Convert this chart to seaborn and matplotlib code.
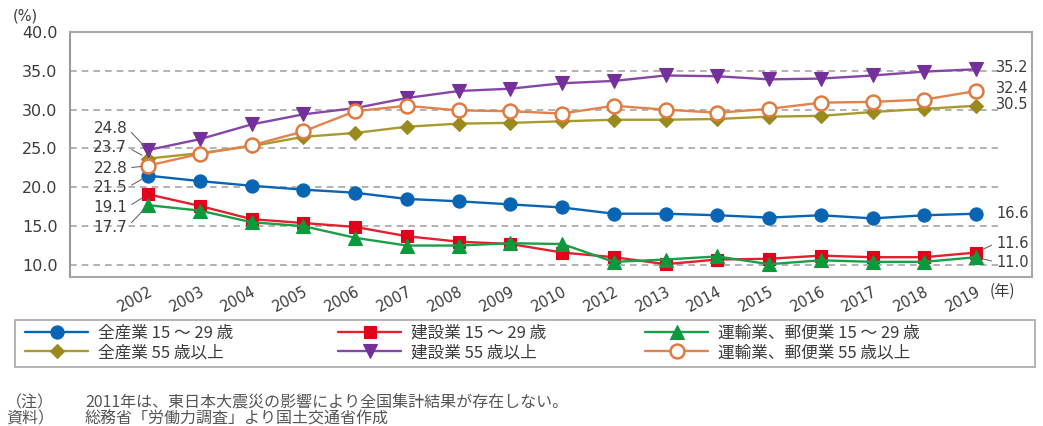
import matplotlib
matplotlib.use("Agg")
import matplotlib.pyplot as plt
from matplotlib.patches import Rectangle
import seaborn as sns
import pandas as pd

# ---- data -------------------------------------------------------------
years = ["2002", "2003", "2004", "2005", "2006", "2007", "2008", "2009", "2010",
         "2012", "2013", "2014", "2015", "2016", "2017", "2018", "2019"]

all_15_29 = [21.5, 20.8, 20.2, 19.7, 19.3, 18.5, 18.2, 17.8, 17.4,
             16.6, 16.6, 16.4, 16.1, 16.4, 16.0, 16.4, 16.6]
con_15_29 = [19.1, 17.6, 15.9, 15.4, 14.9, 13.7, 13.0, 12.7, 11.6,
             11.0, 10.1, 10.7, 10.8, 11.2, 11.0, 11.0, 11.6]
trn_15_29 = [17.7, 17.0, 15.5, 15.0, 13.5, 12.5, 12.5, 12.8, 12.7,
             10.4, 10.7, 11.1, 10.1, 10.6, 10.4, 10.4, 11.0]
all_55 = [23.7, 24.4, 25.3, 26.5, 27.0, 27.8, 28.2, 28.3, 28.5,
          28.7, 28.7, 28.8, 29.1, 29.2, 29.7, 30.1, 30.5]
con_55 = [24.8, 26.2, 28.1, 29.4, 30.2, 31.5, 32.4, 32.7, 33.4,
          33.7, 34.4, 34.3, 33.9, 34.0, 34.4, 34.9, 35.2]
trn_55 = [22.8, 24.3, 25.4, 27.2, 29.8, 30.5, 29.9, 29.8, 29.5,
          30.5, 30.0, 29.6, 30.1, 30.9, 31.0, 31.3, 32.4]

series_names = ["全産業 15 ～ 29 歳", "建設業 15 ～ 29 歳", "運輸業、郵便業 15 ～ 29 歳",
                "全産業 55 歳以上", "建設業 55 歳以上", "運輸業、郵便業 55 歳以上"]
series_values = [all_15_29, con_15_29, trn_15_29, all_55, con_55, trn_55]

y_ticks = [10.0, 15.0, 20.0, 25.0, 30.0, 35.0, 40.0]
y_unit = "(%)"
x_unit = "(年)"
note_heads = ["（注）", "資料）"]
note_bodies = ["2011年は、東日本大震災の影響により全国集計結果が存在しない。",
               "総務省「労働力調査」より国土交通省作成"]

# ---- styles -----------------------------------------------------------
styles = [
    dict(color="#0a64b4", marker="o", ms=9.5, mfc="#0a64b4", mec="#0a64b4"),
    dict(color="#e2202e", marker="s", ms=8, mfc="#e2001a", mec="#e2001a"),
    dict(color="#18a048", marker="^", ms=10, mfc="#0a9a3c", mec="#0a9a3c"),
    dict(color="#a89a2c", marker="D", ms=7.5, mfc="#9a8a1e", mec="#9a8a1e"),
    dict(color="#8646a8", marker="v", ms=10, mfc="#74309a", mec="#74309a"),
    dict(color="#e3824c", marker="o", ms=10, mfc="white", mec="#e07a40", mew=1.8),
]

sns.set_style("white")
plt.rcParams["font.family"] = ["DejaVu Sans", "Noto Sans CJK JP"]
JP = ["Noto Sans CJK JP", "DejaVu Sans"]
TXT = "#3c3c3c"

W, H = 1043, 426
fig = plt.figure(figsize=(W / 100, H / 100), dpi=100)
ax = fig.add_axes([70 / W, 1 - 277 / H, (1032 - 70) / W, (277 - 32) / H])

positions = list(range(len(years)))
df = pd.DataFrame({"pos": positions})
for name, vals in zip(series_names, series_values):
    df[name] = vals

handles = []
for name, st in zip(series_names, styles):
    sns.lineplot(data=df, x="pos", y=name, ax=ax, color=st["color"], lw=1.7,
                 marker=st["marker"], markersize=st["ms"],
                 markerfacecolor=st["mfc"], markeredgecolor=st["mec"],
                 markeredgewidth=st.get("mew", 0.8), legend=False, zorder=3)
    handles.append(ax.lines[-1])

# axes range and frame
ax.set_xlim(-1.51, 17.08)
ax.set_ylim(8.45, 40.0)
for sp in ax.spines.values():
    sp.set_visible(True)
    sp.set_color("#a8a8a8")
    sp.set_linewidth(1.5)
ax.spines["left"].set_color("#9a9a9a")

# dashed reference lines
ax.hlines(y_ticks[:-1], -1.51, 16.43, colors="#a6a6a6", linestyles=(0, (4, 3)),
          linewidth=1.2, zorder=1)

ax.set_yticks(y_ticks)
ax.set_yticklabels([f"{v:.1f}" for v in y_ticks], fontsize=11.5, color=TXT)
ax.set_xticks(positions)
ax.set_xticklabels(years, rotation=28, ha="right", rotation_mode="anchor",
                   fontsize=10.5, color=TXT)
ax.tick_params(axis="both", length=0)
ax.tick_params(axis="x", pad=5)
ax.tick_params(axis="y", pad=9)
ax.set_xlabel("")
ax.set_ylabel("")

# value labels at both ends (pixel offsets from the first / last point)
lead = dict(arrowstyle="-", color="#6a6a6a", lw=0.8, shrinkA=1, shrinkB=5)
left_offsets = [-12, -13, -22, 11.5, 22, -2.5]
for vals, dy in zip(series_values, left_offsets):
    ax.annotate(f"{vals[0]:.1f}", xy=(0, vals[0]), xytext=(-21, dy),
                textcoords="offset pixels", ha="right", va="center",
                fontsize=11, color=TXT,
                arrowprops=dict(lead, relpos=(1, 0.5)))

right_offsets = [(0, False), (9.5, True), (-5, True), (1.5, False), (2, False), (2.5, False)]
last = len(years) - 1
for vals, (dy, leader) in zip(series_values, right_offsets):
    kw = {}
    if leader:
        kw["arrowprops"] = dict(lead, relpos=(0, 0.5))
    ax.annotate(f"{vals[-1]:.1f}", xy=(last, vals[-1]), xytext=(20, dy),
                textcoords="offset pixels", ha="left", va="center",
                fontsize=10.5, color=TXT, **kw)

# units
fig.text(13 / W, 1 - 16 / H, y_unit, fontsize=10.5, color=TXT, ha="left", va="center")
fig.text(990 / W, 1 - 291 / H, x_unit, fontsize=11, color=TXT, ha="left",
         va="center", family=JP)

# legend: three columns, each with a 15-29 row and a 55+ row, in one frame
fig.add_artist(Rectangle((15 / W, 1 - 367 / H), 1020 / W, 47 / H,
                         transform=fig.transFigure, fill=False,
                         edgecolor="#a8a8a8", linewidth=1.2))
col_x = [25, 338, 645]
for c, x in enumerate(col_x):
    leg = fig.legend([handles[c], handles[c + 3]],
                     [series_names[c], series_names[c + 3]],
                     loc="upper left", bbox_to_anchor=(x / W, 1 - 325 / H),
                     borderaxespad=0, borderpad=0, frameon=False,
                     handlelength=3.8, handletextpad=0.6, labelspacing=0.12,
                     prop={"family": JP, "size": 12})
    for t in leg.get_texts():
        t.set_color(TXT)

# notes
for i, (head, body) in enumerate(zip(note_heads, note_bodies)):
    y = 1 - (403 + 16 * i) / H
    fig.text(6 / W, y, head, fontsize=11.5, color="#555555", ha="left",
             va="center", family=JP)
    fig.text(85 / W, y, body, fontsize=11.5, color="#555555", ha="left",
             va="center", family=JP)

fig.savefig("out.png", dpi=100)
